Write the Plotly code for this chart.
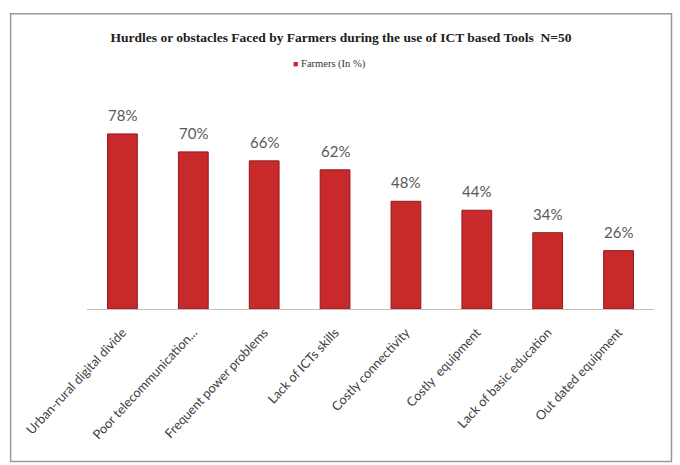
import plotly.graph_objects as go

categories = [
    "Urban-rural digital divide",
    "Poor telecommunication...",
    "Frequent power problems",
    "Lack of ICTs skills",
    "Costly connectivity",
    "Costly  equipment",
    "Lack of basic education",
    "Out dated equipment",
]
farmers_pct = [78, 70, 66, 62, 48, 44, 34, 26]
series_name = "Farmers (In %)"
title_text = "Hurdles or obstacles Faced by Farmers during the use of ICT based Tools  N=50"
bar_color = "#C8292B"

W, H = 680, 465
L, R, T, B = 86.5, 25.5, 106.5, 156
plot_w = W - L - R
plot_h = H - T - B

fig = go.Figure()
fig.add_trace(go.Bar(
    x=categories,
    y=farmers_pct,
    name=series_name,
    marker=dict(color=bar_color, line=dict(color="#8E1B1C", width=1)),
    showlegend=False,
))

# value labels above each bar
for c, v in zip(categories, farmers_pct):
    fig.add_annotation(
        x=c, y=v, text=f"{v}%", showarrow=False,
        yanchor="bottom", yshift=8,
        font=dict(family="Lato, Open Sans, sans-serif", size=15, color="#595959"),
    )

def px_to_paper_x(px):
    return (px - L) / plot_w

def px_to_paper_y(py):
    return (H - B - py) / plot_h

# legend: small square key followed by the series name
fig.add_annotation(
    xref="paper", yref="paper",
    x=px_to_paper_x(329), y=px_to_paper_y(63),
    xanchor="center", yanchor="middle", showarrow=False,
    text=f"<span style='color:{bar_color};font-size:9px'>■</span> {series_name}",
    font=dict(family="Liberation Serif, Times New Roman, serif", size=10.5, color="#333333"),
)

# outer chart frame
fig.add_shape(
    type="rect", xref="paper", yref="paper",
    x0=px_to_paper_x(10), x1=px_to_paper_x(672),
    y0=px_to_paper_y(462), y1=px_to_paper_y(13),
    line=dict(color="#9A9A9A", width=1.5), fillcolor="rgba(0,0,0,0)",
    layer="below",
)

fig.update_layout(
    width=W, height=H,
    margin=dict(l=L, r=R, t=T, b=B, pad=0),
    paper_bgcolor="white", plot_bgcolor="white",
    bargap=0.58,
    showlegend=False,
    title=dict(
        text=f"<b>{title_text}</b>",
        x=341 / W, xanchor="center",
        y=1 - 37 / H, yanchor="middle",
        font=dict(family="Liberation Serif, Times New Roman, serif", size=13.5, color="#202020"),
    ),
    xaxis=dict(
        tickangle=-47,
        showline=True, linecolor="#BFBFBF", linewidth=1,
        ticks="", showgrid=False,
        ticklabelstandoff=10,
        tickfont=dict(family="Lato, Open Sans, sans-serif", size=12.8, color="#404040"),
    ),
    yaxis=dict(
        range=[0, 90], visible=False, showgrid=False,
    ),
)

fig.write_html("out.html")
